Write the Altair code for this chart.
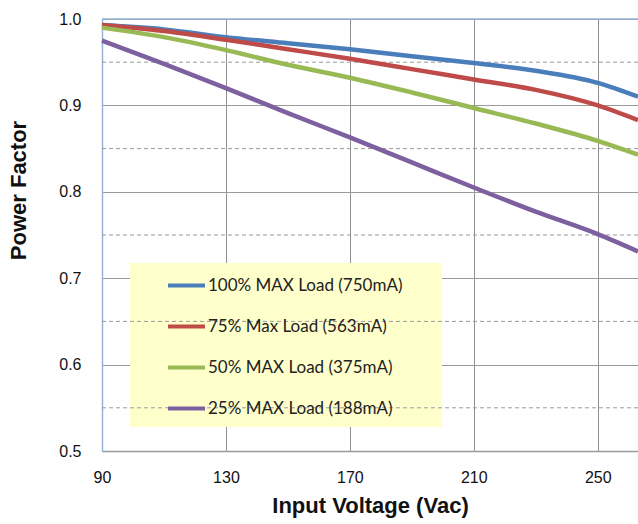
import altair as alt
import pandas as pd

# Input voltage sample points (Vac)
voltage = [90, 110, 130, 150, 170, 190, 210, 230, 250, 263]

# Power factor per load level
pf_100 = [0.993, 0.988, 0.979, 0.972, 0.965, 0.957, 0.949, 0.940, 0.926, 0.910]
pf_75 = [0.993, 0.986, 0.976, 0.965, 0.954, 0.942, 0.930, 0.918, 0.900, 0.883]
pf_50 = [0.990, 0.979, 0.964, 0.947, 0.932, 0.915, 0.897, 0.879, 0.859, 0.843]
pf_25 = [0.975, 0.948, 0.920, 0.891, 0.863, 0.834, 0.805, 0.777, 0.751, 0.731]

series_names = [
    "100% MAX Load (750mA)",
    "75% Max Load (563mA)",
    "50% MAX Load (375mA)",
    "25% MAX Load (188mA)",
]
series_colors = ["#4A7EBB", "#BE4B48", "#98B954", "#7D60A0"]

# Minor (dashed) grid levels
dashed_levels = [0.95, 0.85, 0.75, 0.65, 0.55]

rows = []
for name, values in zip(series_names, [pf_100, pf_75, pf_50, pf_25]):
    for v, pf in zip(voltage, values):
        rows.append({"voltage": v, "pf": pf, "series": name})
df = pd.DataFrame(rows)
dash_df = pd.DataFrame({"level": dashed_levels})

W, H = 536, 432
x_scale = alt.Scale(domain=[90, 263], nice=False, zero=False)
y_scale = alt.Scale(domain=[0.5, 1.0], nice=False, zero=False)

# Light yellow legend panel
legend_bg = alt.Chart(pd.DataFrame({"k": [0]})).mark_rect(color="#FFFFCC").encode(
    x=alt.value(28), x2=alt.value(340), y=alt.value(244), y2=alt.value(408)
)

dashed = alt.Chart(dash_df).mark_rule(
    color="#9a9a9a", strokeDash=[4, 3], strokeWidth=1
).encode(y=alt.Y("level:Q", scale=y_scale))

top_border = alt.Chart(pd.DataFrame({"k": [0]})).mark_rule(
    color="#95B3D7", strokeWidth=1.5
).encode(x=alt.value(0), x2=alt.value(W), y=alt.value(0))

lines = alt.Chart(df).mark_line(strokeWidth=4.5, interpolate="monotone").encode(
    x=alt.X(
        "voltage:Q",
        scale=x_scale,
        axis=alt.Axis(
            title="Input Voltage (Vac)",
            values=[90, 130, 170, 210, 250],
            grid=True,
            gridColor="#8f8f8f",
            ticks=False,
            domainColor="#9a9a9a",
            domainWidth=1.5,
            labelFlush=False,
            labelPadding=18,
            titlePadding=10,
        ),
    ),
    y=alt.Y(
        "pf:Q",
        scale=y_scale,
        axis=alt.Axis(
            title="Power Factor",
            values=[0.5, 0.6, 0.7, 0.8, 0.9, 1.0],
            format=".1f",
            grid=True,
            gridColor="#9a9a9a",
            ticks=False,
            domainColor="#95B3D7",
            domainWidth=1.5,
            labelFlush=False,
            labelPadding=21,
            titleX=-84,
            titleY=171,
            titleBaseline="middle",
        ),
    ),
    color=alt.Color(
        "series:N",
        scale=alt.Scale(domain=series_names, range=series_colors),
        legend=alt.Legend(
            title=None,
            orient="none",
            legendX=64,
            legendY=246,
            symbolType="stroke",
            symbolSize=1369,
            symbolStrokeWidth=4,
            labelFont="Lato",
            labelFontSize=17,
            labelColor="#222222",
            labelOffset=1,
            rowPadding=12,
            padding=0,
            labelLimit=400,
        ),
    ),
    order=alt.Order("series:N"),
)

chart = (
    alt.layer(legend_bg, dashed, lines, top_border)
    .properties(
        width=W,
        height=H,
        background="white",
        autosize=alt.AutoSizeParams(type="none"),
        padding={"left": 102, "top": 19, "right": 0, "bottom": 73},
    )
    .configure_view(stroke=None)
    .configure_axis(
        labelFont="Liberation Sans",
        labelFontSize=16,
        labelColor="#111111",
        titleFont="Liberation Sans",
        titleFontSize=22,
        titleFontWeight="bold",
        titleColor="#111111",
    )
)

chart.save("out.html", embed_options={"renderer": "svg", "actions": False})
